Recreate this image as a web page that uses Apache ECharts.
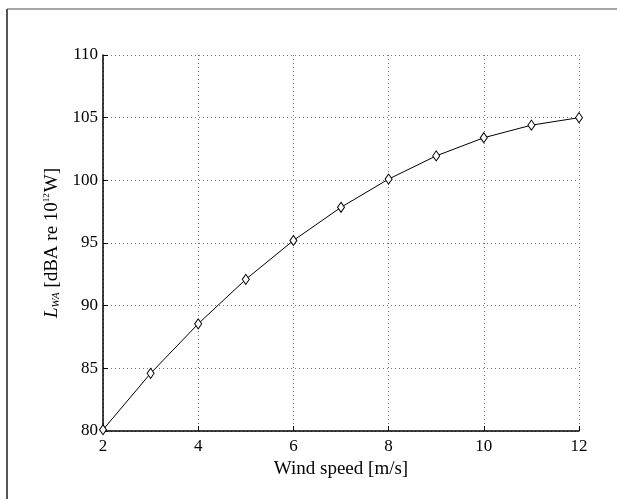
<!DOCTYPE html>
<html>
<head>
<meta charset="utf-8">
<script src="https://cdn.jsdelivr.net/npm/echarts@6/dist/echarts.min.js"></script>
<style>
  html, body { margin: 0; padding: 0; background: #fff; }
  #main { width: 617px; height: 499px; }
</style>
</head>
<body>
<div id="main"></div>
<script>
var windSpeed = [2, 3, 4, 5, 6, 7, 8, 9, 10, 11, 12];      // m/s
var soundPower = [80.1, 84.6, 88.55, 92.1, 95.2, 97.85, 100.1, 101.95, 103.4, 104.4, 105.0]; // dBA

var chart = echarts.init(document.getElementById('main'));
var serif = '"Liberation Serif", "DejaVu Serif", serif';

var option = {
    backgroundColor: '#fff',
    animation: false,
    // 外框 (cropped figure border)
    graphic: [
        { type: 'line', shape: { x1: 7, y1: 9, x2: 617, y2: 9 }, style: { stroke: '#888', lineWidth: 1.5 } },
        { type: 'line', shape: { x1: 7, y1: 9, x2: 7, y2: 499 }, style: { stroke: '#555', lineWidth: 2 } }
    ],
    grid: { left: 103, right: 38, top: 55, bottom: 68 },
    xAxis: {
        type: 'value',
        min: 2, max: 12, interval: 2,
        name: 'Wind speed [m/s]',
        nameLocation: 'middle',
        nameGap: 28,
        nameTextStyle: { fontFamily: serif, fontSize: 19, color: '#000' },
        axisLine: { lineStyle: { color: '#000', width: 1.5 } },
        axisTick: { inside: true, length: 5, lineStyle: { color: '#000' } },
        axisLabel: { fontFamily: serif, fontSize: 17, color: '#000', margin: 7 },
        splitLine: { show: true, lineStyle: { color: '#777', type: [1, 3], width: 1 } }
    },
    yAxis: {
        type: 'value',
        min: 80, max: 110, interval: 5,
        name: '{i|L}{sub|WA} [dBA re 10{sup|12}W]',
        nameLocation: 'middle',
        nameRotate: 90,
        nameGap: 40,
        nameTextStyle: {
            fontFamily: serif, fontSize: 19, color: '#000',
            rich: {
                i: { fontFamily: serif, fontSize: 19, fontStyle: 'italic', color: '#000' },
                sub: { fontFamily: serif, fontSize: 11, fontStyle: 'italic', color: '#000', verticalAlign: 'bottom', padding: [7, 0, 0, 0] },
                sup: { fontFamily: serif, fontSize: 9, color: '#000', verticalAlign: 'top', padding: [0, 1, 9, 0] }
            }
        },
        axisLine: { show: true, lineStyle: { color: '#000', width: 1.5 } },
        axisTick: { show: true, inside: true, length: 5, lineStyle: { color: '#000' } },
        axisLabel: { fontFamily: serif, fontSize: 17, color: '#000', margin: 5 },
        splitLine: { show: true, lineStyle: { color: '#777', type: [1, 3], width: 1 } }
    },
    series: [
        {
            type: 'line',
            data: windSpeed.map(function (v, i) { return [v, soundPower[i]]; }),
            symbol: 'diamond',
            symbolSize: [7, 10],
            showAllSymbol: true,
            lineStyle: { color: '#000', width: 1 },
            itemStyle: { color: '#fff', borderColor: '#000', borderWidth: 1 }
        }
    ]
};

chart.setOption(option);
</script>
</body>
</html>
